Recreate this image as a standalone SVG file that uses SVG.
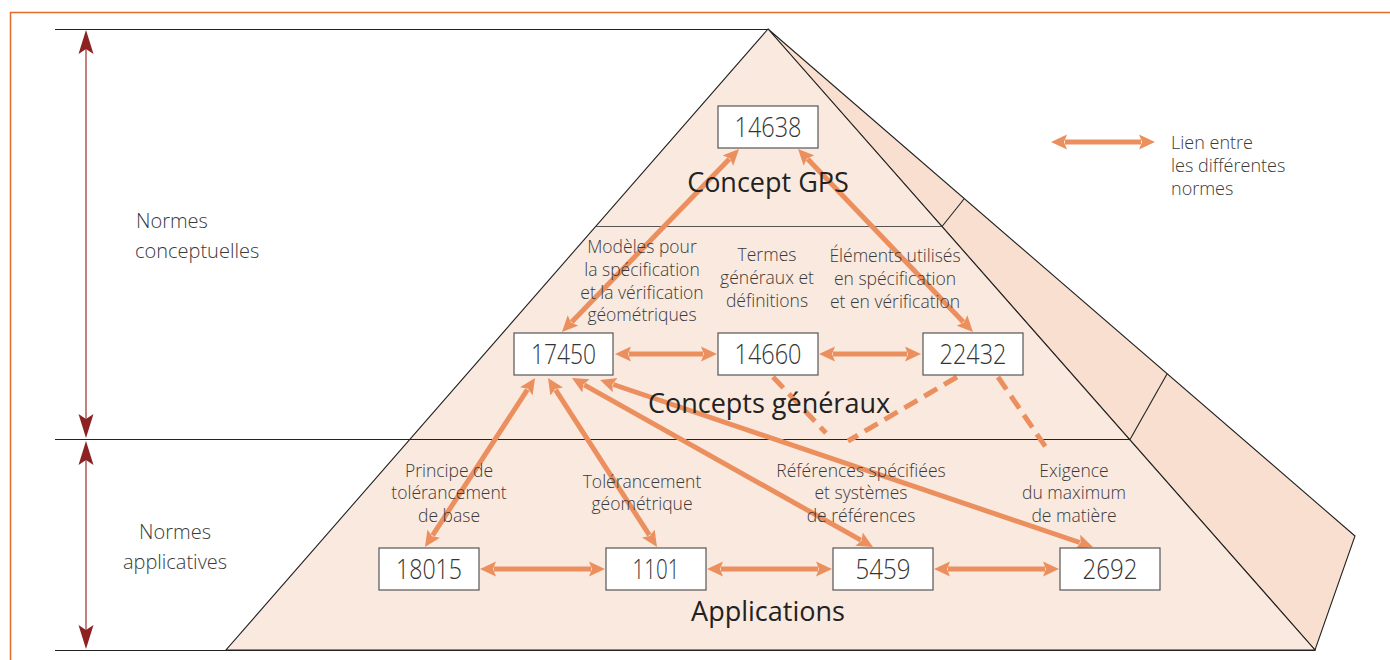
<svg xmlns="http://www.w3.org/2000/svg" width="1390" height="660" viewBox="0 0 1390 660">
<style>
.frame{fill:none;stroke:#e3692c;stroke-width:1.5}
.edge{fill:none;stroke:#222;stroke-width:1.1}
.thin{fill:none;stroke:#555;stroke-width:1}
.box{fill:#fff;stroke:#555;stroke-width:1.2}
.num{font-family:"Open Sans","Liberation Sans",sans-serif;font-size:28px;font-weight:300;fill:#333;text-anchor:middle}
.title{font-family:"Open Sans","Liberation Sans",sans-serif;font-size:27px;fill:#222;text-anchor:middle}
.lbl{font-family:"Open Sans","Liberation Sans",sans-serif;font-size:17.5px;font-weight:300;fill:#3a3a3a;text-anchor:middle}
.side{font-family:"Open Sans","Liberation Sans",sans-serif;font-size:20px;font-weight:300;fill:#3a3a3a}
.leg{font-family:"Open Sans","Liberation Sans",sans-serif;font-size:18px;font-weight:300;fill:#3a3a3a}
.link{fill:none;stroke:#ec8f5e;stroke-width:5;marker-start:url(#ah);marker-end:url(#ah)}
.dash{fill:none;stroke:#ec8f5e;stroke-width:5;stroke-dasharray:15 8}
.red{fill:none;stroke:#b45656;stroke-width:1.5}
.rh{fill:#8c2222}
</style>
<defs>
<marker id="ah" viewBox="0 0 16 16" markerWidth="16" markerHeight="16" markerUnits="userSpaceOnUse" refX="2" refY="8" orient="auto-start-reverse">
<path d="M0,0.5 L16,8 L0,15.5 L3,8 Z" fill="#ec8f5e"/>
</marker>
</defs>
<!-- frame -->
<path class="frame" d="M10.5,660 V12.5 H1390"/>
<!-- pyramid -->
<g id="pyramid">
<polygon points="768,29 1355,536 1315,650" fill="#f8dfcf" stroke="#222" stroke-width="1.1"/>
<polygon points="768,29 226,650 1315,650" fill="#fae9de" stroke="#222" stroke-width="1.1"/>
<line class="thin" x1="596" y1="226.5" x2="942" y2="226.5"/>
<line class="edge" x1="942" y1="226.5" x2="964" y2="199"/>
<line class="edge" x1="1130" y1="439.5" x2="1167" y2="374"/>
<line class="edge" x1="55" y1="29.5" x2="768" y2="29.5"/>
<line class="edge" x1="55" y1="439.5" x2="1130" y2="439.5"/>
<line class="edge" x1="55" y1="650.5" x2="1315" y2="650.5"/>
</g>
<!-- level arrows -->
<g id="levels">
<line class="red" x1="86" y1="40" x2="86" y2="430"/>
<line class="red" x1="86" y1="450" x2="86" y2="640"/>
<path class="rh" d="M86,30 L78.5,54 L86,49 L93.5,54 Z"/>
<path class="rh" d="M86,438 L78.5,414 L86,419 L93.5,414 Z"/>
<path class="rh" d="M86,441 L78.5,465 L86,460 L93.5,465 Z"/>
<path class="rh" d="M86,649 L78.5,625 L86,630 L93.5,625 Z"/>
<text class="side" x="136" y="228">Normes</text>
<text class="side" x="135" y="258">conceptuelles</text>
<text class="side" x="175" y="539" text-anchor="middle">Normes</text>
<text class="side" x="175" y="569" text-anchor="middle">applicatives</text>
</g>
<!-- connectors -->
<g id="connectors">
<line class="link" x1="729.3" y1="159.1" x2="571.7" y2="321.9"/>
<line class="link" x1="807.7" y1="159.1" x2="963.3" y2="321.9"/>
<line class="link" x1="629" y1="354" x2="703" y2="354"/>
<line class="link" x1="833" y1="354" x2="907" y2="354"/>
<line class="link" x1="527.4" y1="389.7" x2="432.6" y2="535.3"/>
<line class="link" x1="555.6" y1="389.8" x2="649.4" y2="535.2"/>
<line class="link" x1="584.2" y1="384.9" x2="860.8" y2="540.1"/>
<line class="link" x1="613.3" y1="384.5" x2="1079.7" y2="542.5"/>
<line class="link" x1="494" y1="569" x2="591" y2="569"/>
<line class="link" x1="721" y1="569" x2="818" y2="569"/>
<line class="link" x1="948" y1="569" x2="1045" y2="569"/>
<line class="dash" x1="773" y1="377" x2="826" y2="433"/>
<line class="dash" x1="957" y1="377" x2="848" y2="441"/>
<line class="dash" x1="998" y1="377" x2="1047" y2="449"/>
</g>
<!-- level titles -->
<text class="title" x="768" y="192">Concept GPS</text>
<text class="title" x="769" y="413">Concepts généraux</text>
<text class="title" x="768" y="621">Applications</text>
<!-- labels -->
<g id="labels">
<text class="lbl" x="642" y="253">Modèles pour</text>
<text class="lbl" x="642" y="276">la spécification</text>
<text class="lbl" x="642" y="299">et la vérification</text>
<text class="lbl" x="642" y="321">géométriques</text>
<text class="lbl" x="767" y="261">Termes</text>
<text class="lbl" x="767" y="284">généraux et</text>
<text class="lbl" x="767" y="307">définitions</text>
<text class="lbl" x="895" y="262">Éléments utilisés</text>
<text class="lbl" x="895" y="285">en spécification</text>
<text class="lbl" x="895" y="308">et en vérification</text>
<text class="lbl" x="449" y="477">Principe de</text>
<text class="lbl" x="449" y="499">tolérancement</text>
<text class="lbl" x="449" y="522">de base</text>
<text class="lbl" x="642" y="488">Tolérancement</text>
<text class="lbl" x="642" y="510">géométrique</text>
<text class="lbl" x="861" y="477">Références spécifiées</text>
<text class="lbl" x="861" y="499">et systèmes</text>
<text class="lbl" x="861" y="522">de références</text>
<text class="lbl" x="1074" y="477">Exigence</text>
<text class="lbl" x="1074" y="499">du maximum</text>
<text class="lbl" x="1074" y="522">de matière</text>
</g>
<!-- nodes -->
<g id="n14638"><rect class="box" x="718" y="106" width="100" height="42"/><text class="num" x="768" y="137" textLength="67" lengthAdjust="spacingAndGlyphs">14638</text></g>
<g id="n17450"><rect class="box" x="514" y="333" width="99" height="42"/><text class="num" x="563.5" y="364" textLength="65" lengthAdjust="spacingAndGlyphs">17450</text></g>
<g id="n14660"><rect class="box" x="718" y="333" width="100" height="42"/><text class="num" x="768" y="364" textLength="67" lengthAdjust="spacingAndGlyphs">14660</text></g>
<g id="n22432"><rect class="box" x="923" y="333" width="100" height="42"/><text class="num" x="973" y="364" textLength="67" lengthAdjust="spacingAndGlyphs">22432</text></g>
<g id="n18015"><rect class="box" x="379" y="548" width="100" height="42"/><text class="num" x="429" y="579" textLength="66" lengthAdjust="spacingAndGlyphs">18015</text></g>
<g id="n1101"><rect class="box" x="606" y="548" width="100" height="42"/><text class="num" x="656" y="579" textLength="47" lengthAdjust="spacingAndGlyphs">1101</text></g>
<g id="n5459"><rect class="box" x="833" y="548" width="100" height="42"/><text class="num" x="883" y="579" textLength="55" lengthAdjust="spacingAndGlyphs">5459</text></g>
<g id="n2692"><rect class="box" x="1060" y="548" width="100" height="42"/><text class="num" x="1110" y="579" textLength="55" lengthAdjust="spacingAndGlyphs">2692</text></g>
<!-- legend -->
<g id="legend">
<line class="link" x1="1065" y1="142" x2="1141" y2="142"/>
<text class="leg" x="1171" y="149">Lien entre</text>
<text class="leg" x="1171" y="172">les différentes</text>
<text class="leg" x="1171" y="195">normes</text>
</g>
</svg>
